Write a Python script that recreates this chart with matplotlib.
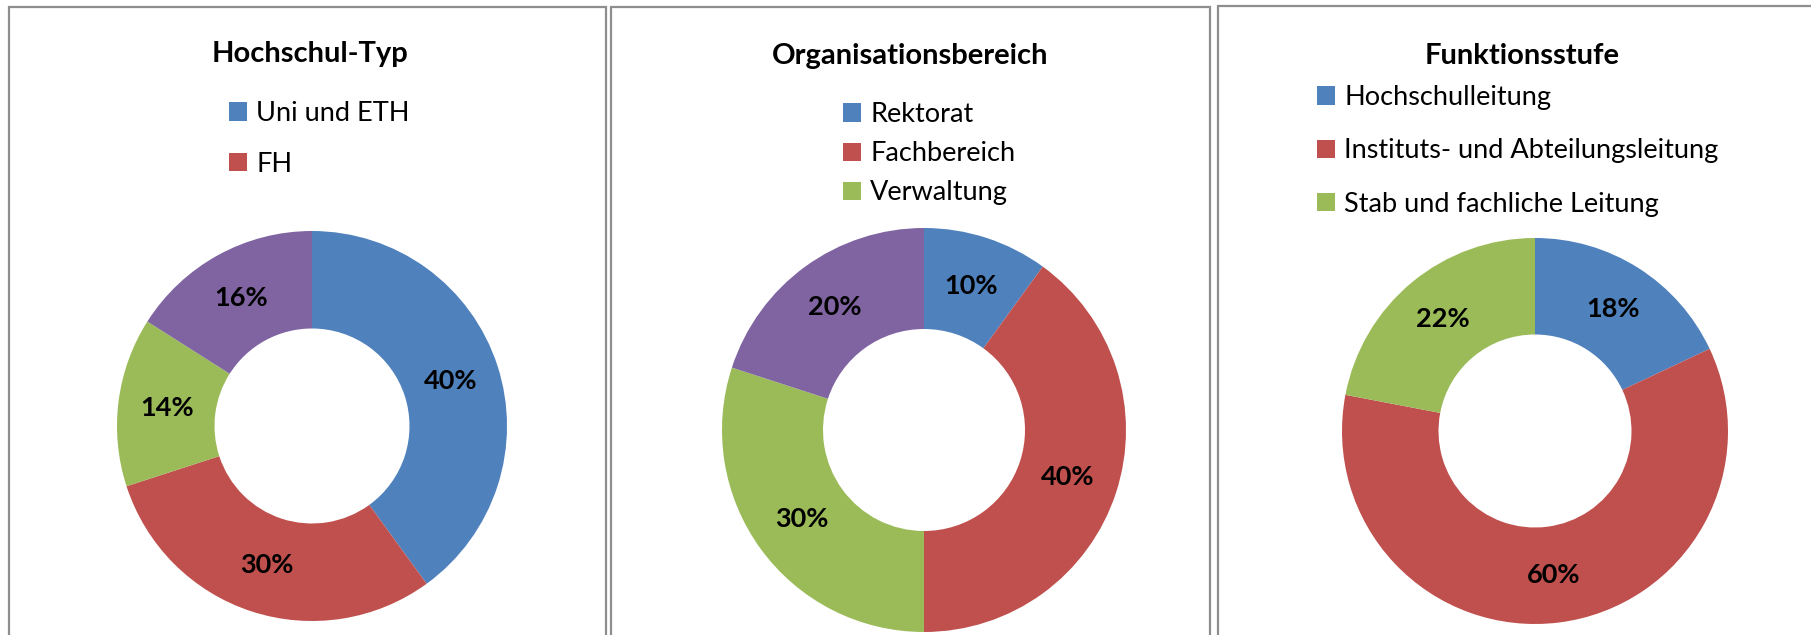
import matplotlib.pyplot as plt
from matplotlib.patches import Rectangle

W, H = 1811, 635

plt.rcParams["font.family"] = ["Lato", "DejaVu Sans"]

# data
titles = ["Hochschul-Typ", "Organisationsbereich", "Funktionsstufe"]

hochschul_values = [40, 30, 14, 16]
hochschul_labels = ["Uni und ETH", "FH"]

organisation_values = [10, 40, 30, 20]
organisation_labels = ["Rektorat", "Fachbereich", "Verwaltung"]

funktion_values = [18, 60, 22]
funktion_labels = ["Hochschulleitung", "Instituts- und Abteilungsleitung",
                   "Stab und fachliche Leitung"]

colors = ["#4F81BD", "#C0504D", "#9BBB59", "#8064A2"]

# layout in pixels (from the top-left corner)
panels = [(9, 7, 597), (611, 7, 599), (1218, 6, 620)]  # left, top, width
centers = [(312, 426, 195), (924, 430, 202), (1535, 431, 193)]  # x, y, radius
title_x = [310, 910, 1522]
title_y = [54, 56, 56]
legend_anchor = [(229, 101), (843, 102), (1317, 85)]  # marker left, top
legend_spacing = [0.95, 0.52, 1.05]

series = [
    (hochschul_values, hochschul_labels),
    (organisation_values, organisation_labels),
    (funktion_values, funktion_labels),
]

fig = plt.figure(figsize=(W / 100, H / 100), dpi=100)


def fx(x):
    return x / W


def fy(y):
    return 1 - y / H


for i, (values, labels) in enumerate(series):
    left, top, width = panels[i]
    fig.patches.append(Rectangle((fx(left), fy(H + 20)), width / W, (H + 20 - top) / H,
                                 transform=fig.transFigure, fill=False,
                                 edgecolor="#8E8E8E", linewidth=1.6))

    cx, cy, r = centers[i]
    ax = fig.add_axes([fx(cx - r), fy(cy + r), 2 * r / W, 2 * r / H])
    wedges, _, autotexts = ax.pie(
        values, colors=colors[:len(values)], startangle=90, counterclock=False,
        radius=1, wedgeprops=dict(width=0.5, edgecolor="none"),
        autopct=lambda p: f"{p:.0f}%", pctdistance=0.75,
        textprops=dict(fontsize=19.5, fontweight="bold", color="black"),
    )
    ax.set_xlim(-1, 1)
    ax.set_ylim(-1, 1)
    ax.set_aspect("equal")
    ax.axis("off")

    fig.text(fx(title_x[i]), fy(title_y[i]), titles[i],
             ha="center", va="center", fontsize=21, fontweight="bold")

    lx, ly = legend_anchor[i]
    fig.legend(wedges[:len(labels)], labels, loc="upper left",
               bbox_to_anchor=(fx(lx), fy(ly)), frameon=False,
               fontsize=19.5, handlelength=0.65, handleheight=0.65,
               handletextpad=0.35, labelspacing=legend_spacing[i],
               borderpad=0, borderaxespad=0)

fig.savefig("out.png", dpi=100, facecolor="white")
